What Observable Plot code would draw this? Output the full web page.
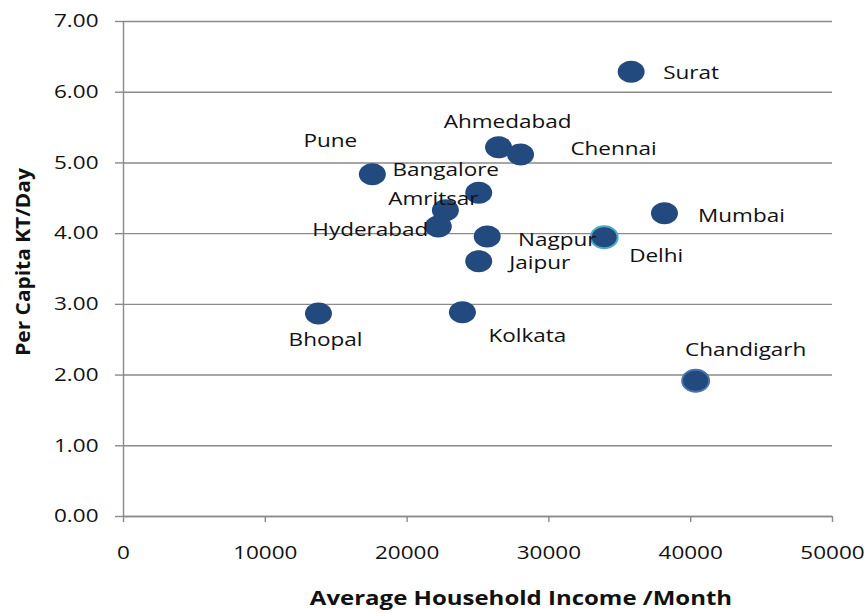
<!DOCTYPE html>
<html>
<head>
<meta charset="utf-8">
<script src="https://cdn.jsdelivr.net/npm/d3@7"></script>
<script src="https://cdn.jsdelivr.net/npm/@observablehq/plot@0.6"></script>
<style>
  html, body { margin: 0; padding: 0; background: #fff; }
  #chart svg { display: block; }
</style>
</head>
<body>
<div id="chart"></div>
<script>
// ---- data ----
const cities = ["Surat", "Ahmedabad", "Pune", "Chennai", "Bangalore", "Amritsar", "Mumbai",
                "Hyderabad", "Nagpur", "Delhi", "Jaipur", "Kolkata", "Bhopal", "Chandigarh"];
const income = [35800, 26450, 17550, 28000, 25050, 22700, 38150,
                22200, 25650, 33900, 25050, 23900, 13750, 40350];
const perCapita = [6.29, 5.22, 4.84, 5.12, 4.58, 4.33, 4.29,
                   4.10, 3.96, 3.95, 3.61, 2.89, 2.87, 1.92];
// label offsets (px) relative to each point, as placed in the original chart
const labelDx = [60, 9, -42, 93, -33, -12, 77, -68, 70, 52, 61, 65, 7, 50];
const labelDy = [2, -25, -33, -5, -22, -11, 3, 4, 4, 19, 2, 24, 27, -30];
const yTicks = [0, 1, 2, 3, 4, 5, 6, 7];
const xTicks = [0, 10000, 20000, 30000, 40000, 50000];

const data = cities.map((c, i) => ({city: c, x: income[i], y: perCapita[i], dx: labelDx[i], dy: labelDy[i]}));

// ellipse symbol (the original dots are slightly wider than tall)
const ellipse = {
  draw(ctx, size) {
    const rx = 13.5, ry = 11, k = 0.5523;
    ctx.moveTo(rx, 0);
    ctx.bezierCurveTo(rx, k * ry, k * rx, ry, 0, ry);
    ctx.bezierCurveTo(-k * rx, ry, -rx, k * ry, -rx, 0);
    ctx.bezierCurveTo(-rx, -k * ry, -k * rx, -ry, 0, -ry);
    ctx.bezierCurveTo(k * rx, -ry, rx, -k * ry, rx, 0);
    ctx.closePath();
  }
};

const axisColor = "#8a8a8a";
const font = "'Open Sans', sans-serif";

const labelMarks = data.map(d =>
  Plot.text([d], {x: "x", y: "y", text: "city", dx: d.dx, dy: d.dy,
    fontSize: 18, fill: "#111", textAnchor: "middle"})
);

const chart = Plot.plot({
  width: 868,
  height: 613,
  marginLeft: 123,
  marginRight: 36,
  marginTop: 21,
  marginBottom: 97,
  style: {fontFamily: font, background: "#fff"},
  x: {domain: [0, 50000], ticks: xTicks},
  y: {domain: [0, 7], ticks: yTicks},
  marks: [
    Plot.gridY(yTicks, {stroke: axisColor, strokeOpacity: 1, strokeWidth: 1.4}),
    Plot.ruleX([0], {stroke: axisColor, strokeWidth: 1.4}),
    Plot.ruleY([0], {stroke: axisColor, strokeWidth: 1.4}),
    Plot.axisY(yTicks, {tickSize: 8, tickPadding: 17, tickFormat: d3.format(".2f"),
      stroke: axisColor, strokeWidth: 1.4, fontSize: 18, fill: "#111", label: null}),
    Plot.axisX(xTicks, {tickSize: 6, tickPadding: 24, tickFormat: d3.format("d"),
      stroke: axisColor, strokeWidth: 1.4, fontSize: 18, fill: "#111", label: null}),
    Plot.dot(data, {x: "x", y: "y", symbol: ellipse, fill: "#224a7e",
      stroke: d => d.city === "Delhi" ? "#4bacc6" : (d.city === "Chandigarh" ? "#4a73a8" : "none"),
      strokeWidth: 2}),
    ...labelMarks
  ]
});

// axis titles
const svg = d3.select(chart);
svg.append("text")
  .attr("transform", "translate(30,262) rotate(-90)")
  .attr("text-anchor", "middle")
  .attr("font-family", font)
  .attr("font-weight", "bold")
  .attr("font-size", 19)
  .attr("fill", "#111")
  .text("Per Capita KT/Day");
svg.append("text")
  .attr("transform", "translate(521,605)")
  .attr("text-anchor", "middle")
  .attr("font-family", font)
  .attr("font-weight", "bold")
  .attr("font-size", 20)
  .attr("fill", "#111")
  .attr("class", "xtitle")
  .text("Average Household Income /Month");

// stretch text horizontally like the original's widened Calibri-style lettering
svg.selectAll("text").each(function() {
  const el = this;
  const t = el.getAttribute("transform") || "";
  if (t.includes("rotate")) el.setAttribute("transform", t + " scale(1.1,1.0)");
  else if (el.getAttribute("class") === "xtitle") el.setAttribute("transform", t + " scale(1.2,1)");
  else el.setAttribute("transform", t + " scale(1.25,1)");
});

document.getElementById("chart").appendChild(chart);
</script>
</body>
</html>
